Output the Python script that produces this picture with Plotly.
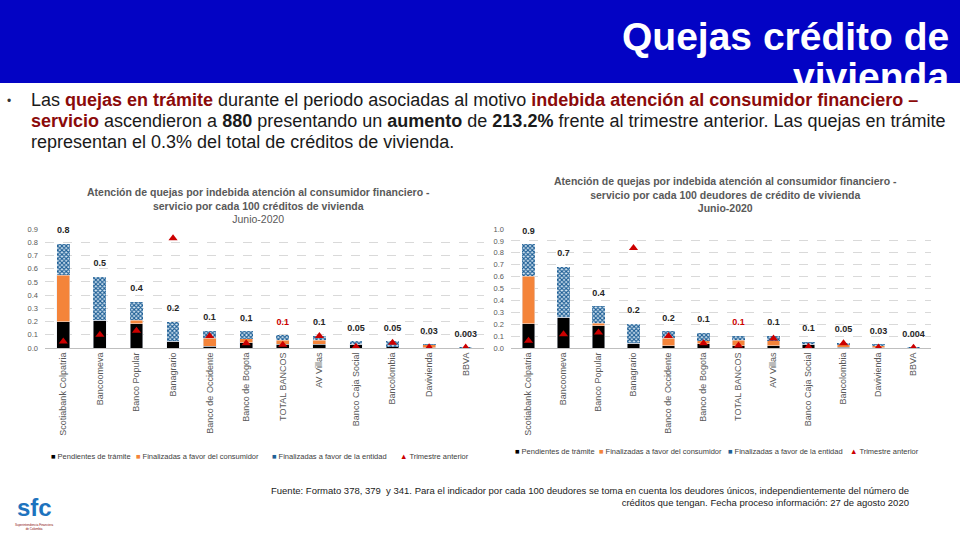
import plotly.graph_objects as go

categories = ["Scotiabank Colpatria", "Bancoomeva", "Banco Popular", "Banagrario",
              "Banco de Occidente", "Banco de Bogota", "TOTAL BANCOS", "AV Villas",
              "Banco Caja Social", "Bancolombia", "Davivienda", "BBVA"]

# Left chart: per 100 créditos de vivienda
pend_c = [0.20, 0.21, 0.185, 0.05, 0.015, 0.04, 0.03, 0.03, 0.03, 0.008, 0.003, 0.0]
cons_c = [0.35, 0.0, 0.025, 0.0, 0.06, 0.03, 0.03, 0.03, 0.0, 0.0, 0.022, 0.0]
ent_c = [0.24, 0.33, 0.14, 0.15, 0.055, 0.055, 0.035, 0.03, 0.02, 0.042, 0.003, 0.003]
prev_c = [0.05, 0.10, 0.13, 0.83, 0.09, 0.035, 0.025, 0.09, 0.01, 0.04, 0.005, 0.003]
labels_c = ["0.8", "0.5", "0.4", "0.2", "0.1", "0.1", "0.1", "0.1", "0.05", "0.05", "0.03", "0.003"]

# Right chart: per 100 deudores de crédito de vivienda
pend_d = [0.205, 0.26, 0.185, 0.04, 0.017, 0.037, 0.017, 0.017, 0.03, 0.005, 0.003, 0.0]
cons_d = [0.40, 0.0, 0.025, 0.0, 0.063, 0.023, 0.048, 0.043, 0.0, 0.025, 0.022, 0.0]
ent_d = [0.265, 0.42, 0.14, 0.16, 0.06, 0.07, 0.035, 0.045, 0.02, 0.015, 0.003, 0.004]
prev_d = [0.06, 0.115, 0.13, 0.84, 0.10, 0.04, 0.02, 0.08, 0.01, 0.04, 0.005, 0.003]
labels_d = ["0.9", "0.7", "0.4", "0.2", "0.2", "0.1", "0.1", "0.1", "0.1", "0.05", "0.03", "0.004"]

series_names = ["Pendientes de trámite", "Finalizadas a favor del consumidor",
                "Finalizadas a favor de la entidad", "Trimestre anterior"]

W, H = 960, 540
def px(x): return x / W
def py(y): return 1 - y / H

SANS = "Liberation Sans, Arial, sans-serif"
BLACK = "#000000"
ORANGE = "#F4843A"
BLUE = "#1F5F95"
RED = "#CC0000"
DARKRED = "#8B0A0A"
GRAY = "#595959"
series_colors = [BLACK, ORANGE, BLUE, RED]

fig = go.Figure()

def add_chart(pend, cons, ent, prev, labels, xa, ya):
    totals = [a + b + c for a, b, c in zip(pend, cons, ent)]
    fig.add_trace(go.Bar(x=categories, y=pend, name=series_names[0], marker_color=BLACK,
                         xaxis=xa, yaxis=ya, showlegend=False))
    fig.add_trace(go.Bar(x=categories, y=cons, name=series_names[1], marker_color=ORANGE,
                         xaxis=xa, yaxis=ya, showlegend=False))
    fig.add_trace(go.Bar(x=categories, y=ent, name=series_names[2],
                         marker=dict(color="#D8E8F4", line=dict(width=0),
                                     pattern=dict(shape="x", fgcolor=BLUE, bgcolor="#D8E8F4",
                                                  size=3, solidity=0.6, fgopacity=1)),
                         xaxis=xa, yaxis=ya, showlegend=False))
    fig.add_trace(go.Scatter(x=categories, y=prev, name=series_names[3], mode="markers",
                             marker=dict(symbol="triangle-up", size=8, color=RED),
                             xaxis=xa, yaxis=ya, showlegend=False))
    colors = [RED if c == "TOTAL BANCOS" else "#262626" for c in categories]
    fig.add_trace(go.Scatter(x=categories, y=totals, mode="markers+text",
                             text=[f"<b>{t}</b>" for t in labels],
                             textposition="top center", cliponaxis=False,
                             textfont=dict(family=SANS, size=9, color=colors),
                             marker=dict(size=12, opacity=0), showlegend=False,
                             hoverinfo="skip", xaxis=xa, yaxis=ya))

add_chart(pend_c, cons_c, ent_c, prev_c, labels_c, "x", "y")
add_chart(pend_d, cons_d, ent_d, prev_d, labels_d, "x2", "y2")

ydom = [py(348), py(229)]
xcommon = dict(type="category", tickangle=-90, tickfont=dict(family=SANS, size=9, color=GRAY),
               showline=True, linecolor="#BFBFBF", linewidth=1, ticks="", showgrid=False,
               range=[-0.5, len(categories) - 0.5], autorange=False)
ycommon = dict(tickformat=".1f", tickfont=dict(family=SANS, size=7.5, color=GRAY),
               showgrid=True, gridcolor="#D9D9D9", griddash="dash", zeroline=False,
               showline=False, ticks="", ticklabelstandoff=6)

fig.update_layout(
    width=W, height=H, autosize=False, margin=dict(l=0, r=0, t=0, b=0, autoexpand=False),
    paper_bgcolor="white", plot_bgcolor="white",
    barmode="stack", bargap=0.65, showlegend=False,
    xaxis=dict(domain=[px(45), px(484)], anchor="y", **xcommon),
    yaxis=dict(domain=ydom, anchor="x", range=[0, 0.9], dtick=0.1, **ycommon),
    xaxis2=dict(domain=[px(511), px(931)], anchor="y2", **xcommon),
    yaxis2=dict(domain=ydom, anchor="x2", range=[0, 1.0], dtick=0.1, **ycommon),
)

shapes = [dict(type="rect", xref="paper", yref="paper", x0=0, x1=1, y0=py(83), y1=1,
               fillcolor="#0303C4", line=dict(width=0), layer="below")]
fig.update_layout(shapes=shapes)

ann = []
# Header title
ann.append(dict(text="<b>Quejas crédito de</b>", x=px(951), y=py(60), xanchor="right", yanchor="bottom",
                font=dict(family=SANS, size=39, color="white")))
ann.append(dict(text="<b>vivienda</b>", x=px(951), y=py(100), xanchor="right", yanchor="bottom",
                font=dict(family=SANS, size=39, color="white")))
# Bullet text
R = DARKRED
line1 = (f"Las <b><span style='color:{R}'>quejas en trámite</span></b> durante el periodo asociadas al motivo "
         f"<b><span style='color:{R}'>indebida atención al consumidor financiero –</span></b>")
line2 = (f"<b><span style='color:{R}'>servicio</span></b> ascendieron a <b>880</b> presentando un <b>aumento</b> de "
         f"<b>213.2%</b> frente al trimestre anterior. Las quejas en trámite")
line3 = "representan el 0.3% del total de créditos de vivienda."
ann.append(dict(text="•", x=px(5), y=py(101), xanchor="left", yanchor="middle",
                font=dict(family=SANS, size=12, color="#333333")))
for i, t in enumerate([line1, line2, line3]):
    ann.append(dict(text=t, x=px(29), y=py(100 + 21 * i), xanchor="left", yanchor="middle",
                    font=dict(family=SANS, size=18, color="#1a1a1a")))
# Chart titles
ann.append(dict(text="<b>Atención de quejas por indebida atención al consumidor financiero -<br>"
                     "servicio por cada 100 créditos de vivienda</b><br>Junio-2020",
                x=px(258), y=py(205), xanchor="center", yanchor="middle", align="center",
                font=dict(family=SANS, size=10.5, color=GRAY)))
ann.append(dict(text="<b>Atención de quejas por indebida atención al consumidor financiero -<br>"
                     "servicio por cada 100 deudores de crédito de vivienda<br>Junio-2020</b>",
                x=px(725), y=py(194), xanchor="center", yanchor="middle", align="center",
                font=dict(family=SANS, size=10.5, color=GRAY)))
# Legends (manual, compact like the original)
leg_left_x = [49, 134, 270, 398]
leg_right_x = [513, 597, 726, 848]
symbols = ["■", "■", "■", "▲"]
for xs, yrow in ((leg_left_x, 456), (leg_right_x, 451)):
    for name, sym, col, x0 in zip(series_names, symbols, series_colors, xs):
        ann.append(dict(text=f"<span style='color:{col}'>{sym}</span> {name}", x=px(x0), y=py(yrow),
                        xanchor="left", yanchor="middle",
                        font=dict(family=SANS, size=7.5, color="#404040")))
# Footer
ann.append(dict(text="Fuente: Formato 378, 379  y 341. Para el indicador por cada 100 deudores se toma en cuenta los deudores únicos, independientemente del número de<br>"
                     "créditos que tengan. Fecha proceso información: 27 de agosto 2020",
                x=px(911), y=py(496), xanchor="right", yanchor="middle", align="right",
                font=dict(family=SANS, size=9.5, color="#1a1a1a")))
# Logo
ann.append(dict(text="<b>sfc</b>", x=px(34), y=py(507), xanchor="center", yanchor="middle",
                font=dict(family=SANS, size=24, color="#1E73BE")))
ann.append(dict(text="Superintendencia Financiera<br>de Colombia", x=px(34), y=py(527), xanchor="center",
                yanchor="middle", align="center", font=dict(family=SANS, size=3, color=DARKRED)))
for a in ann:
    a.update(xref="paper", yref="paper", showarrow=False)
fig.update_layout(annotations=ann)

post = ("document.body.style.margin='0';document.body.style.overflow='hidden';"
        "var gd=document.getElementById('{plot_id}');Plotly.relayout(gd,{width:960,height:540});")
fig.write_html("out.html", post_script=post, config={"responsive": False, "displayModeBar": False})
